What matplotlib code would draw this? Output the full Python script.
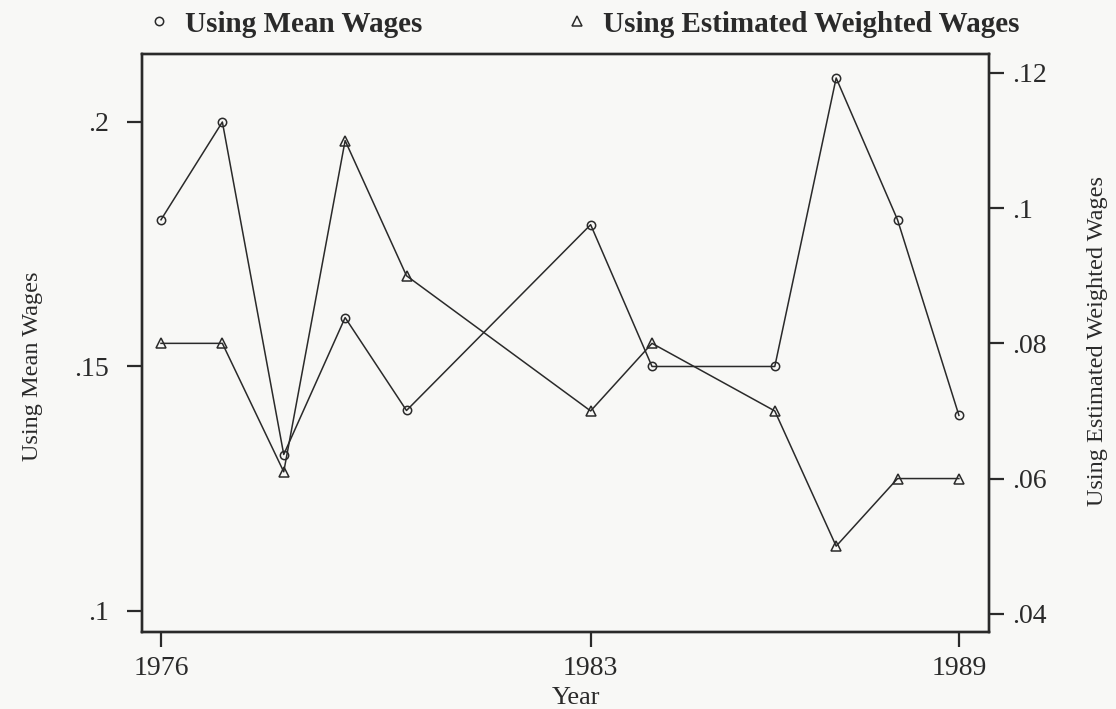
import matplotlib
matplotlib.use("Agg")
import matplotlib.pyplot as plt
from matplotlib.lines import Line2D

# values
years = [1976, 1977, 1978, 1979, 1980, 1983, 1984, 1986, 1987, 1988, 1989]
mean_wages = [0.180, 0.200, 0.132, 0.160, 0.141, 0.179, 0.150, 0.150, 0.209, 0.180, 0.140]
weighted_wages = [0.080, 0.080, 0.061, 0.110, 0.090, 0.070, 0.080, 0.070, 0.050, 0.060, 0.060]

x_ticks = [1976, 1983, 1989]
left_ticks = [0.1, 0.15, 0.2]
left_labels = [".1", ".15", ".2"]
right_ticks = [0.04, 0.06, 0.08, 0.10, 0.12]
right_labels = [".04", ".06", ".08", ".1", ".12"]

plt.rcParams["font.family"] = ["Liberation Serif", "DejaVu Serif"]
ink = "#2a2a2a"
paper = "#f8f8f6"

fig = plt.figure(figsize=(11.16, 7.09), dpi=100, facecolor=paper)
ax = fig.add_axes([0.1272, 0.1086, 0.759, 0.8152])
ax.set_facecolor(paper)
ax2 = ax.twinx()

ax.plot(years, mean_wages, color=ink, lw=1.1, marker="o", ms=6,
        mfc="none", mec=ink, mew=1.1, zorder=3)
ax2.plot(years, weighted_wages, color=ink, lw=1.1, marker="^", ms=7,
         mfc="none", mec=ink, mew=1.1, zorder=3)

ax.set_xlim(1975.69, 1989.49)
ax.set_ylim(0.0957, 0.2139)
ax2.set_ylim(0.0373, 0.1228)

ax.set_xticks(x_ticks)
ax.set_xticklabels([str(y) for y in x_ticks])
ax.set_yticks(left_ticks)
ax.set_yticklabels(left_labels)
ax2.set_yticks(right_ticks)
ax2.set_yticklabels(right_labels)

for a in (ax, ax2):
    for s in a.spines.values():
        s.set_linewidth(1.7)
        s.set_color(ink)
    a.tick_params(length=11, width=1.6, color=ink, labelcolor=ink,
                  labelsize=20, direction="out")
ax.tick_params(axis="x", pad=6)
ax.tick_params(axis="y", pad=12.5)
ax2.tick_params(axis="y", pad=6)

ax.set_xlabel("Year", fontsize=19, color=ink)
ax.xaxis.set_label_coords(0.513, -0.095)
ax.set_ylabel("Using Mean Wages", fontsize=17.5, color=ink)
ax.yaxis.set_label_coords(-0.117, 0.460)
ax2.set_ylabel("Using Estimated Weighted Wages", fontsize=17.5, color=ink,
               rotation=90)
ax2.yaxis.set_label_coords(1.116, 0.503)

handles = [
    Line2D([], [], ls="none", marker="o", ms=6, mfc="none", mec=ink, mew=1.1),
    Line2D([], [], ls="none", marker="^", ms=7, mfc="none", mec=ink, mew=1.1),
]
fig.legend(handles, ["Using Mean Wages", "Using Estimated Weighted Wages"],
           loc="center", bbox_to_anchor=(585 / 1116, 1 - 24 / 709), ncol=2,
           frameon=False, handlelength=0.6, handletextpad=0.6,
           columnspacing=5.0, prop={"weight": "bold", "size": 21},
           labelcolor=ink)

fig.savefig("out.png", dpi=100, facecolor=paper)
